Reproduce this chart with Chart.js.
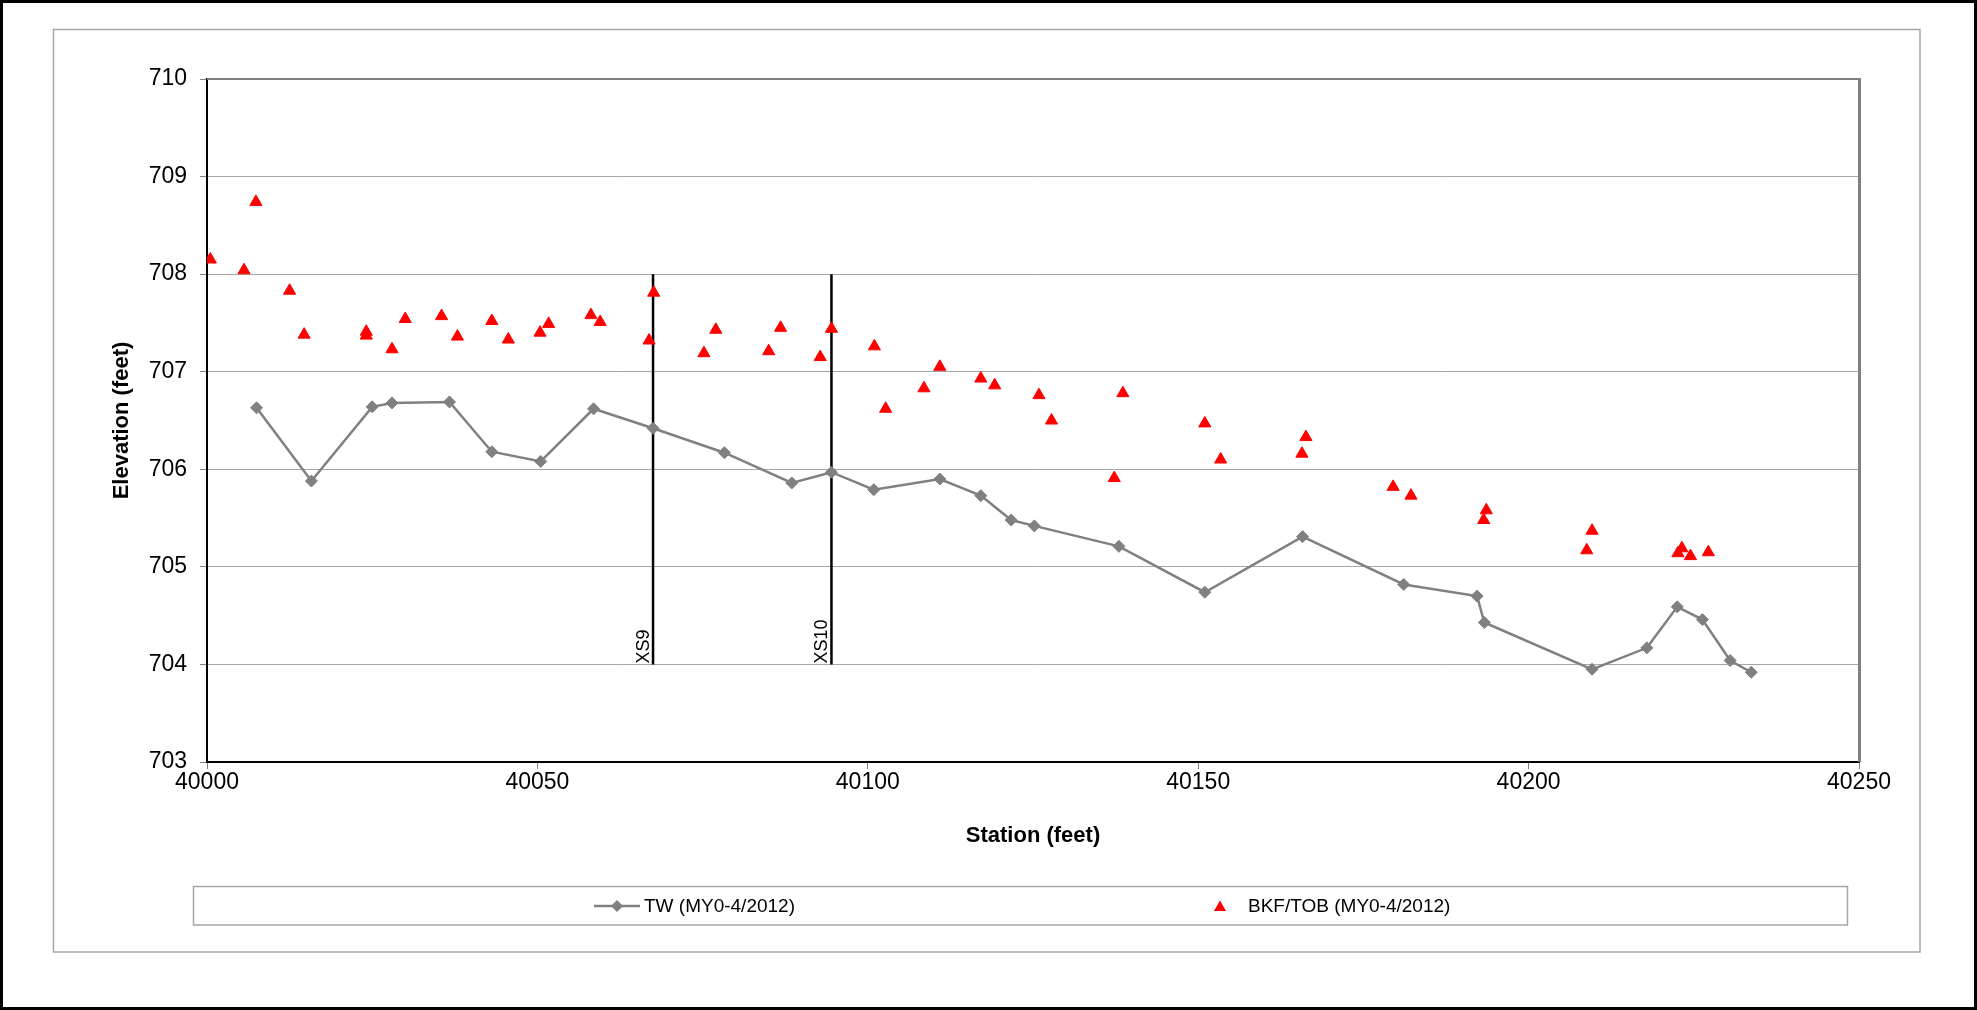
<!DOCTYPE html>
<html>
<head>
<meta charset="utf-8">
<script src="https://cdn.jsdelivr.net/npm/chart.js@4/dist/chart.umd.min.js"></script>
<style>
  html, body { margin: 0; padding: 0; background: #fff; }
  canvas { display: block; }
</style>
</head>
<body>
<canvas id="profile" width="1977" height="1010"></canvas>
<script>
// Thalweg survey points (station, elevation in feet)
const twStation = [40007.5, 40015.8, 40025.0, 40028.0, 40036.7, 40043.1, 40050.5, 40058.5, 40067.5, 40078.3,
                   40088.5, 40094.5, 40100.9, 40110.9, 40117.1, 40121.7, 40125.2, 40138.0, 40151.0, 40165.8,
                   40181.1, 40192.2, 40193.3, 40209.6, 40217.9, 40222.5, 40226.3, 40230.5, 40233.7];
const twElev    = [706.63, 705.88, 706.64, 706.68, 706.69, 706.18, 706.08, 706.62, 706.42, 706.17,
                   705.86, 705.97, 705.79, 705.90, 705.73, 705.48, 705.42, 705.21, 704.74, 705.31,
                   704.82, 704.70, 704.43, 703.95, 704.17, 704.59, 704.46, 704.04, 703.92];

// Bankfull / top-of-bank points
const bkfStation = [40000.5, 40005.6, 40007.4, 40012.5, 40014.7, 40024.1, 40024.1, 40028.0, 40030.0, 40035.5,
                    40037.9, 40043.1, 40045.6, 40050.4, 40051.7, 40058.1, 40059.5, 40066.9, 40067.6, 40075.2,
                    40077.0, 40085.0, 40086.8, 40092.8, 40094.5, 40101.0, 40102.7, 40108.5, 40110.9, 40117.1,
                    40119.2, 40125.9, 40127.8, 40137.3, 40138.6, 40151.0, 40153.4, 40165.7, 40166.3, 40179.5,
                    40182.2, 40193.2, 40193.6, 40208.8, 40209.6, 40222.6, 40223.2, 40224.5, 40227.2];
const bkfElev    = [708.15, 708.04, 708.74, 707.83, 707.38, 707.41, 707.37, 707.23, 707.54, 707.57,
                    707.36, 707.52, 707.33, 707.40, 707.49, 707.58, 707.51, 707.32, 707.81, 707.19,
                    707.43, 707.21, 707.45, 707.15, 707.44, 707.26, 706.62, 706.83, 707.05, 706.93,
                    706.86, 706.76, 706.50, 705.91, 706.78, 706.47, 706.10, 706.16, 706.33, 705.82,
                    705.73, 705.48, 705.58, 705.17, 705.37, 705.14, 705.19, 705.11, 705.15];

// Cross-section markers
const xsStations = [40067.5, 40094.5];
const xsNames    = ['XS9', 'XS10'];
const xsElevRange = [704, 708];

const seriesNames = ['TW (MY0-4/2012)', 'BKF/TOB (MY0-4/2012)'];
const xTitle = 'Station (feet)';
const yTitle = 'Elevation (feet)';
const xRange = [40000, 40250];
const yRange = [703, 710];

const FONT = "'Liberation Sans', Arial, Helvetica, sans-serif";
Chart.defaults.font.family = FONT;
Chart.defaults.color = '#000';

const GRAY = '#808080';
const RED = '#ff0000';

const pts = (xs, ys) => xs.map((x, i) => ({ x, y: ys[i] }));

const datasets = [
  {
    label: seriesNames[0],
    data: pts(twStation, twElev),
    showLine: true,
    borderColor: GRAY,
    borderWidth: 2.5,
    backgroundColor: GRAY,
    pointStyle: 'rectRot',
    pointRadius: 6,
    pointBorderWidth: 1,
    pointBorderColor: GRAY,
    pointBackgroundColor: GRAY
  },
  {
    label: seriesNames[1],
    data: pts(bkfStation, bkfElev),
    showLine: false,
    pointStyle: 'triangle',
    pointRadius: 7,
    pointBorderWidth: 1,
    pointBorderColor: RED,
    pointBackgroundColor: RED,
    backgroundColor: RED,
    borderColor: RED
  }
];
xsStations.forEach((s, i) => {
  datasets.push({
    label: xsNames[i],
    data: xsElevRange.map(e => ({ x: s, y: e })),
    showLine: true,
    borderColor: '#000',
    borderWidth: 2.5,
    pointRadius: 0
  });
});

// Page frame, plot border, section labels and legend
const decorations = {
  id: 'decorations',
  beforeDraw(chart) {
    const ctx = chart.ctx;
    ctx.save();
    ctx.fillStyle = '#fff';
    ctx.fillRect(0, 0, chart.width, chart.height);
    ctx.strokeStyle = '#000';
    ctx.lineWidth = 3;
    ctx.strokeRect(1.5, 1.5, chart.width - 3, chart.height - 3);
    ctx.strokeStyle = '#a6a6a6';
    ctx.lineWidth = 1.5;
    ctx.strokeRect(53.5, 29.5, 1866.5, 922.5);
    ctx.restore();
  },
  beforeDatasetsDraw(chart) {
    const { ctx, chartArea: a } = chart;
    ctx.save();
    ctx.strokeStyle = GRAY;
    ctx.lineWidth = 2;
    ctx.beginPath();
    ctx.moveTo(a.left, a.top);
    ctx.lineTo(a.right, a.top);
    ctx.stroke();
    ctx.lineWidth = 3;
    ctx.beginPath();
    ctx.moveTo(a.right + 0.5, a.top - 1);
    ctx.lineTo(a.right + 0.5, a.bottom);
    ctx.stroke();
    ctx.restore();
  },
  afterDraw(chart) {
    const { ctx, scales } = chart;
    ctx.save();
    // section labels, reading upward alongside each marker line
    ctx.font = `18px ${FONT}`;
    ctx.fillStyle = '#000';
    ctx.textAlign = 'left';
    ctx.textBaseline = 'alphabetic';
    xsStations.forEach((s, i) => {
      const px = scales.x.getPixelForValue(s);
      const py = scales.y.getPixelForValue(xsElevRange[0]);
      ctx.save();
      ctx.translate(px - 4, py - 1);
      ctx.rotate(-Math.PI / 2);
      ctx.fillText(xsNames[i], 0, 0);
      ctx.restore();
    });

    // legend box
    ctx.strokeStyle = '#a6a6a6';
    ctx.lineWidth = 1.5;
    ctx.strokeRect(193.5, 886.5, 1654, 38.5);
    const ly = 906;
    // TW entry
    ctx.strokeStyle = GRAY;
    ctx.lineWidth = 2.5;
    ctx.beginPath();
    ctx.moveTo(594, ly);
    ctx.lineTo(640, ly);
    ctx.stroke();
    ctx.fillStyle = GRAY;
    ctx.beginPath();
    ctx.moveTo(617 - 6, ly);
    ctx.lineTo(617, ly - 6);
    ctx.lineTo(617 + 6, ly);
    ctx.lineTo(617, ly + 6);
    ctx.closePath();
    ctx.fill();
    // BKF entry
    ctx.fillStyle = RED;
    const r = 7, tx = 1220;
    ctx.beginPath();
    ctx.moveTo(tx, ly - r + 1.5);
    ctx.lineTo(tx + r * 0.866, ly + r * 0.5 + 1.5);
    ctx.lineTo(tx - r * 0.866, ly + r * 0.5 + 1.5);
    ctx.closePath();
    ctx.fill();

    ctx.fillStyle = '#000';
    ctx.font = `19px ${FONT}`;
    ctx.textBaseline = 'middle';
    ctx.fillText(seriesNames[0], 644, ly + 1);
    ctx.fillText(seriesNames[1], 1248, ly + 1);
    ctx.restore();
  }
};

new Chart(document.getElementById('profile'), {
  type: 'scatter',
  data: { datasets },
  plugins: [decorations],
  options: {
    responsive: false,
    animation: false,
    devicePixelRatio: 1,
    layout: { padding: { left: 100, right: 118, top: 79, bottom: 150 } },
    plugins: {
      legend: { display: false },
      tooltip: { enabled: false }
    },
    scales: {
      x: {
        type: 'linear',
        min: xRange[0],
        max: xRange[1],
        afterFit(scale) { scale.height = 98; },
        ticks: {
          stepSize: 50,
          padding: 0,
          font: { size: 23 },
          color: '#000',
          maxRotation: 0,
          callback: v => String(v)
        },
        grid: {
          drawOnChartArea: false,
          drawTicks: true,
          tickLength: 7,
          tickColor: GRAY
        },
        border: { display: true, color: '#000', width: 2 },
        title: {
          display: true,
          text: xTitle,
          font: { size: 22, weight: 'bold' },
          color: '#000',
          padding: { top: 0, bottom: 11 }
        }
      },
      y: {
        type: 'linear',
        min: yRange[0],
        max: yRange[1],
        afterFit(scale) { scale.width = 107; },
        ticks: {
          stepSize: 1,
          padding: 13,
          font: { size: 23 },
          color: '#000',
          callback: v => String(v)
        },
        grid: {
          color: c => (c.tick && (c.tick.value === yRange[0] || c.tick.value === yRange[1])) ? 'rgba(0,0,0,0)' : '#a6a6a6',
          lineWidth: 1,
          drawTicks: true,
          tickLength: 7,
          tickColor: GRAY
        },
        border: { display: true, color: '#000', width: 2 },
        title: {
          display: true,
          text: yTitle,
          font: { size: 22, weight: 'bold' },
          color: '#000',
          padding: { top: 9, bottom: 0 }
        }
      }
    }
  }
});
</script>
</body>
</html>
